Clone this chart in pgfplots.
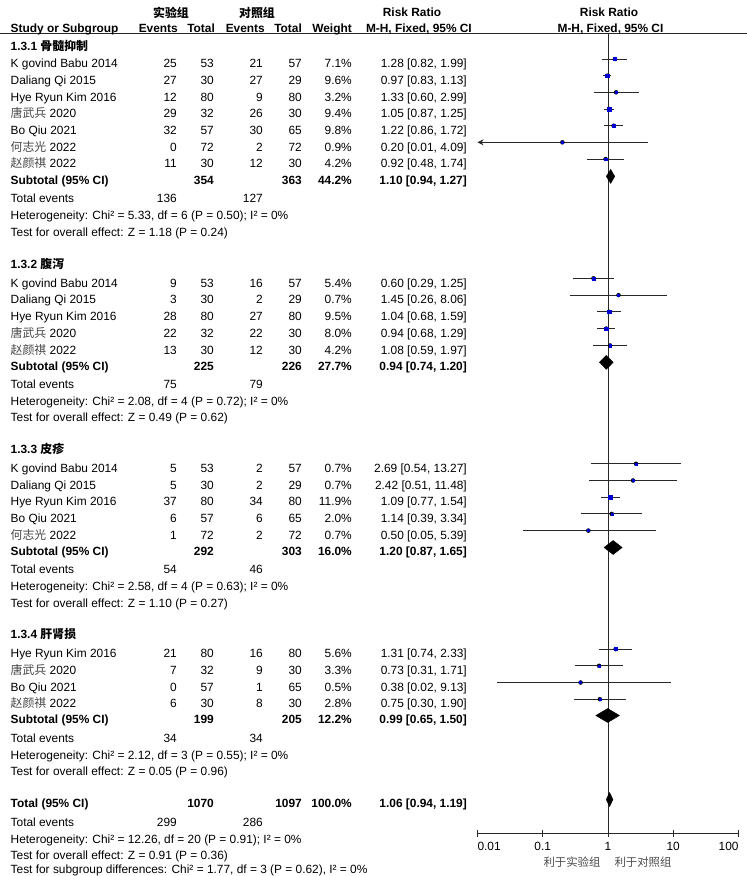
\documentclass[border=0pt]{standalone}
\usepackage{pgfplots}
\pgfplotsset{compat=1.18}
\usepackage{pgfplotstable}
\usepackage{fontspec}
\setmainfont{Liberation Sans}
\newfontfamily\cjk{Noto Sans CJK SC}
\usetikzlibrary{arrows.meta}
\definecolor{sqblue}{RGB}{0,0,210}
\definecolor{ln}{RGB}{40,40,40}
\newcommand\fs{\fontsize{11.9pt}{14pt}\selectfont}
\newcommand\cn[1]{{\cjk\color{black!72}#1}}

% rr lo hi weight(%) y(row position)
\pgfplotstableread{
rr lo hi w y
1.28 0.82 1.99 7.1 -59.0
0.97 0.83 1.13 9.6 -75.7
1.33 0.60 2.99 3.2 -92.3
1.05 0.87 1.25 9.4 -109.0
1.22 0.86 1.72 9.8 -125.7
0.20 0.01 4.09 0.9 -142.3
0.92 0.48 1.74 4.2 -159.0
0.60 0.29 1.25 5.4 -278.3
1.45 0.26 8.06 0.7 -295.1
1.04 0.68 1.59 9.5 -311.8
0.94 0.68 1.29 8.0 -328.6
1.08 0.59 1.97 4.2 -345.5
2.69 0.54 13.27 0.7 -463.8
2.42 0.51 11.48 0.7 -480.5
1.09 0.77 1.54 11.9 -497.2
1.14 0.39 3.34 2.0 -513.9
0.50 0.05 5.39 0.7 -530.6
1.31 0.74 2.33 5.6 -649.1
0.73 0.31 1.71 3.3 -665.8
0.38 0.02 9.13 0.5 -682.5
0.75 0.30 1.90 2.8 -699.2
}\studies

\newcommand\row[8]{%
  \node[L] at (10.5pt,-#1pt) {#2};
  \node[R] at (177pt,-#1pt) {#3};
  \node[R] at (214pt,-#1pt) {#4};
  \node[R] at (263pt,-#1pt) {#5};
  \node[R] at (302pt,-#1pt) {#6};
  \node[R] at (352pt,-#1pt) {#7};
  \node[R] at (467pt,-#1pt) {#8};}
\newcommand\sub[6]{%
  \node[L] at (10.5pt,-#1pt) {\bfseries #2};
  \node[R] at (214pt,-#1pt) {\bfseries #3};
  \node[R] at (302pt,-#1pt) {\bfseries #4};
  \node[R] at (352pt,-#1pt) {\bfseries #5};
  \node[R] at (467pt,-#1pt) {\bfseries #6};}
\newcommand\te[3]{%
  \node[L] at (10.5pt,-#1pt) {Total events};
  \node[R] at (177pt,-#1pt) {#2};
  \node[R] at (263pt,-#1pt) {#3};}
\newcommand\txt[2]{\node[L] at (10.5pt,-#1pt) {#2};}
\newcommand\grp[2]{\node[L] at (10.5pt,-#1pt) {\bfseries #2};}

\begin{document}
\begin{tikzpicture}[
  L/.style={anchor=base west, inner sep=0pt, font=\fs},
  R/.style={anchor=base east, inner sep=0pt, font=\fs},
  C/.style={anchor=base, inner sep=0pt, font=\fs}]
\useasboundingbox (0pt,0pt) rectangle (747pt,-876pt);

\begin{axis}[
  scale only axis, width=261pt, height=799.5pt,
  at={(477.5pt,-833pt)}, anchor=south west,
  xmode=log, xmin=0.01, xmax=100, ymin=-833, ymax=-33.5,
  axis x line*=bottom, axis y line=none,
  x axis line style={-, ln, line width=1pt},
  xtick={0.01,0.1,1,10,100},
  xticklabels={\rlap{0.01},0.1,1,10,\llap{100}},
  xminorticks=false, ytick=\empty,
  tick align=center, major tick length=7pt,
  every tick/.append style={ln, line width=1pt},
  xticklabel style={font=\fs, inner sep=0pt, anchor=north, yshift=-5.5pt},
  clip=false]
% line of no effect
\addplot[ln, line width=1pt] coordinates {(1,-33.5) (1,-833)};
% confidence intervals
\addplot[only marks, mark=none, draw=none,
  error bars/.cd, x dir=both, x explicit, error mark=none,
  error bar style={ln, line width=1pt}]
  table[x=rr, y=y,
    x error plus expr=\thisrow{hi}-\thisrow{rr},
    x error minus expr=\thisrow{rr}-\thisrow{lo}] {\studies};
\addplot[ln, line width=1pt, -{Stealth[length=6pt, width=6pt]}]
  coordinates {(0.03,-142.3) (0.01,-142.3)};
% study weights
\addplot[scatter, only marks, mark=square*,
  scatter/use mapped color={draw=sqblue, fill=sqblue},
  visualization depends on={max(1,0.6*sqrt(\thisrow{w})) \as \msz},
  scatter/@pre marker code/.append style={/tikz/mark size=\msz pt}]
  table[x=rr, y=y] {\studies};
% pooled estimates
\addplot[fill=black, draw=black] coordinates {(0.94,-176.4) (1.10,-169.4) (1.27,-176.4) (1.10,-183.4)} -- cycle;
\addplot[fill=black, draw=black] coordinates {(0.74,-362.3) (0.94,-355.3) (1.20,-362.3) (0.94,-369.3)} -- cycle;
\addplot[fill=black, draw=black] coordinates {(0.87,-547.5) (1.20,-540.5) (1.65,-547.5) (1.20,-554.5)} -- cycle;
\addplot[fill=black, draw=black] coordinates {(0.65,-715.5) (0.99,-708.5) (1.50,-715.5) (0.99,-722.5)} -- cycle;
\addplot[fill=black, draw=black] coordinates {(0.94,-799.5) (1.06,-792.5) (1.19,-799.5) (1.06,-806.5)} -- cycle;
\end{axis}

% header
\draw[ln, line width=1pt] (0pt,-33.5pt) -- (747pt,-33.5pt);
\node[C] at (171pt,-17pt) {\cjk\bfseries 实验组};
\node[C] at (257pt,-17pt) {\cjk\bfseries 对照组};
\node[C] at (412pt,-16pt) {\bfseries Risk Ratio};
\node[C] at (609pt,-16pt) {\bfseries Risk Ratio};
\node[L] at (10.5pt,-32pt) {\bfseries Study or Subgroup};
\node[R] at (178pt,-32pt) {\bfseries Events};
\node[R] at (215pt,-32pt) {\bfseries Total};
\node[R] at (265pt,-32pt) {\bfseries Events};
\node[R] at (302pt,-32pt) {\bfseries Total};
\node[R] at (352pt,-32pt) {\bfseries Weight};
\node[R] at (472pt,-32pt) {\bfseries M-H, Fixed, 95\% CI};
\node[C] at (610.5pt,-32pt) {\bfseries M-H, Fixed, 95\% CI};

% 1.3.1
\grp{50.3}{1.3.1 {\cjk 骨髓抑制}}
\row{67.7}{K govind Babu 2014}{25}{53}{21}{57}{7.1\%}{1.28 [0.82, 1.99]}
\row{84.4}{Daliang Qi 2015}{27}{30}{27}{29}{9.6\%}{0.97 [0.83, 1.13]}
\row{101.0}{Hye Ryun Kim 2016}{12}{80}{9}{80}{3.2\%}{1.33 [0.60, 2.99]}
\row{117.7}{\cn{唐武兵} 2020}{29}{32}{26}{30}{9.4\%}{1.05 [0.87, 1.25]}
\row{134.4}{Bo Qiu 2021}{32}{57}{30}{65}{9.8\%}{1.22 [0.86, 1.72]}
\row{151.0}{\cn{何志光} 2022}{0}{72}{2}{72}{0.9\%}{0.20 [0.01, 4.09]}
\row{167.7}{\cn{赵颜祺} 2022}{11}{30}{12}{30}{4.2\%}{0.92 [0.48, 1.74]}
\sub{184.4}{Subtotal (95\% CI)}{354}{363}{44.2\%}{1.10 [0.94, 1.27]}
\te{202.5}{136}{127}
\txt{219.3}{Heterogeneity: Chi² = 5.33, df = 6 (P = 0.50); I² = 0\%}
\txt{236.0}{Test for overall effect: Z = 1.18 (P = 0.24)}

% 1.3.2
\grp{268.7}{1.3.2 {\cjk 腹泻}}
\row{287.0}{K govind Babu 2014}{9}{53}{16}{57}{5.4\%}{0.60 [0.29, 1.25]}
\row{303.8}{Daliang Qi 2015}{3}{30}{2}{29}{0.7\%}{1.45 [0.26, 8.06]}
\row{320.5}{Hye Ryun Kim 2016}{28}{80}{27}{80}{9.5\%}{1.04 [0.68, 1.59]}
\row{337.3}{\cn{唐武兵} 2020}{22}{32}{22}{30}{8.0\%}{0.94 [0.68, 1.29]}
\row{354.2}{\cn{赵颜祺} 2022}{13}{30}{12}{30}{4.2\%}{1.08 [0.59, 1.97]}
\sub{370.3}{Subtotal (95\% CI)}{225}{226}{27.7\%}{0.94 [0.74, 1.20]}
\te{388.5}{75}{79}
\txt{405.5}{Heterogeneity: Chi² = 2.08, df = 4 (P = 0.72); I² = 0\%}
\txt{421.9}{Test for overall effect: Z = 0.49 (P = 0.62)}

% 1.3.3
\grp{453.8}{1.3.3 {\cjk 皮疹}}
\row{472.5}{K govind Babu 2014}{5}{53}{2}{57}{0.7\%}{2.69 [0.54, 13.27]}
\row{489.2}{Daliang Qi 2015}{5}{30}{2}{29}{0.7\%}{2.42 [0.51, 11.48]}
\row{505.9}{Hye Ryun Kim 2016}{37}{80}{34}{80}{11.9\%}{1.09 [0.77, 1.54]}
\row{522.6}{Bo Qiu 2021}{6}{57}{6}{65}{2.0\%}{1.14 [0.39, 3.34]}
\row{539.3}{\cn{何志光} 2022}{1}{72}{2}{72}{0.7\%}{0.50 [0.05, 5.39]}
\sub{555.5}{Subtotal (95\% CI)}{292}{303}{16.0\%}{1.20 [0.87, 1.65]}
\te{573.5}{54}{46}
\txt{590.5}{Heterogeneity: Chi² = 2.58, df = 4 (P = 0.63); I² = 0\%}
\txt{607.0}{Test for overall effect: Z = 1.10 (P = 0.27)}

% 1.3.4
\grp{638.8}{1.3.4 {\cjk 肝肾损}}
\row{657.8}{Hye Ryun Kim 2016}{21}{80}{16}{80}{5.6\%}{1.31 [0.74, 2.33]}
\row{674.5}{\cn{唐武兵} 2020}{7}{32}{9}{30}{3.3\%}{0.73 [0.31, 1.71]}
\row{691.2}{Bo Qiu 2021}{0}{57}{1}{65}{0.5\%}{0.38 [0.02, 9.13]}
\row{707.9}{\cn{赵颜祺} 2022}{6}{30}{8}{30}{2.8\%}{0.75 [0.30, 1.90]}
\sub{723.5}{Subtotal (95\% CI)}{199}{205}{12.2\%}{0.99 [0.65, 1.50]}
\te{742.5}{34}{34}
\txt{759.5}{Heterogeneity: Chi² = 2.12, df = 3 (P = 0.55); I² = 0\%}
\txt{775.5}{Test for overall effect: Z = 0.05 (P = 0.96)}

% overall
\sub{807.5}{Total (95\% CI)}{1070}{1097}{100.0\%}{1.06 [0.94, 1.19]}
\te{826.5}{299}{286}
\txt{843.5}{Heterogeneity: Chi² = 12.26, df = 20 (P = 0.91); I² = 0\%}
\txt{859.5}{Test for overall effect: Z = 0.91 (P = 0.36)}
\txt{873.3}{Test for subgroup differences: Chi² = 1.77, df = 3 (P = 0.62), I² = 0\%}

% axis captions
\node[anchor=base, inner sep=0pt, font=\fontsize{11.4pt}{13pt}\selectfont] at (572pt,-866.5pt) {\cjk\color{black!70}利于实验组};
\node[anchor=base, inner sep=0pt, font=\fontsize{11.4pt}{13pt}\selectfont] at (643pt,-866.5pt) {\cjk\color{black!70}利于对照组};
\end{tikzpicture}
\end{document}
